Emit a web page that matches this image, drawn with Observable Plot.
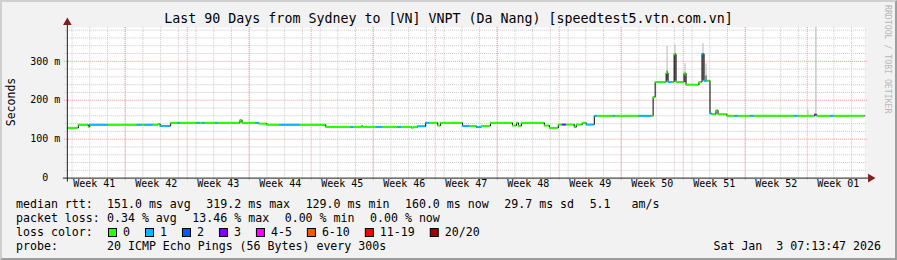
<!DOCTYPE html>
<html>
<head>
<meta charset="utf-8">
<script src="https://cdn.jsdelivr.net/npm/d3@7"></script>
<script src="https://cdn.jsdelivr.net/npm/@observablehq/plot@0.6"></script>
<style>
  html, body { margin: 0; padding: 0; background: #f2f2f2; }
  #wrap { position: relative; width: 897px; height: 260px; box-sizing: border-box;
          background: #f2f2f2; border-top: 2px solid #cfcfcf; border-left: 2px solid #cfcfcf;
          border-right: 2px solid #9e9e9e; border-bottom: 2px solid #9e9e9e; overflow: hidden; }
  #chart, #overlay { position: absolute; left: -2px; top: -2px; }
  #overlay { pointer-events: none; }
  text { font-family: "DejaVu Sans Mono", monospace; }
</style>
</head>
<body>
<div id="wrap">
  <div id="chart"></div>
  <svg id="overlay" width="897" height="260"></svg>
</div>
<script>
// ---------- data ----------
const titleText = "Last 90 Days from Sydney to [VN] VNPT (Da Nang) [speedtest5.vtn.com.vn]";
const windowStart = new Date(Date.UTC(2025, 9, 6, 11, 17));
const windowDays = 90;

// median RTT step segments: day offset from window start, median rtt (ms), lost pings (of 20)
const day = [0, 1.24, 2.37, 2.53, 4.62, 7.89, 8.45, 8.79, 9.69, 10.25, 10.48, 11.66, 12.51, 12.73, 14.65, 14.98,
  15.32, 15.55, 16.79, 17.01, 19.49, 19.72, 21.29, 21.63, 22.53, 24.00, 26.25, 29.18, 32.00, 32.33, 33.24, 33.35,
  34.93, 35.60, 37.29, 37.74, 38.87, 39.09, 39.54, 40.45, 40.90, 41.80, 42.14, 44.61, 45.40, 46.19, 46.75, 47.77,
  50.25, 50.70, 50.92, 51.26, 53.85, 54.42, 55.43, 55.88, 56.33, 57.23, 57.46, 58.13, 58.58, 59.49, 59.82, 61.63,
  61.85, 64.56, 65.91, 66.13, 66.36, 67.60, 67.82, 68.27, 68.50, 68.72, 69.62, 69.85, 71.31, 71.65, 71.88, 72.22,
  72.55, 72.78, 73.23, 73.46, 74.47, 75.37, 75.71, 77.17, 77.51, 82.13, 82.47, 84.38, 84.61, 86.19, 86.53, 89.57];
const rtt = [129, 137, 132, 137, 137, 137, 137, 137, 137, 139, 134, 142, 142, 142, 142, 142,
  142, 142, 142, 142, 149, 142, 142, 140, 137, 137, 137, 131.5, 131.5, 131.5, 134, 131.5,
  131.5, 131.5, 131.5, 131.5, 129.5, 131, 133, 142, 142, 135, 142, 134, 134, 131, 134, 142,
  135, 142, 134, 142, 135, 129, 137.5, 137.5, 137.5, 131, 137.5, 142, 137.5, 160, 160, 160,
  160, 160, 160, 208, 247, 270, 247, 247, 318, 247, 269, 240, 247, 319.2, 250, 250,
  166, 164, 174, 164, 160, 160, 160, 160, 160, 160, 160, 163, 160, 160, 160, 160];
const loss = [0, 0, 0, 1, 0, 1, 0, 1, 0, 0, 1, 0, 1, 0, 1, 0,
  1, 0, 1, 0, 0, 0, 1, 0, 0, 1, 0, 0, 1, 0, 0, 0,
  1, 0, 1, 0, 0, 0, 1, 1, 0, 0, 0, 1, 0, 1, 0, 0,
  0, 0, 0, 0, 0, 0, 0, 3, 0, 0, 0, 0, 1, 1, 0, 1,
  0, 1, 0, 0, 0, 0, 1, 0, 0, 0, 0, 0, 0, 1, 1, 0,
  1, 0, 0, 0, 0, 1, 0, 1, 0, 1, 0, 3, 0, 1, 0, 0];

// smoke (spread of the 20 pings) where it is visible
const smokeDay = [67.71, 68.60, 69.73, 71.76, 72.10, 83.60, 84.50];
const smokeLow = [250, 250, 245, 250, 250, 160, 160];
const smokeMid = [275, 320, 262, 318, 262, 160, 160];
const smokeTop = [338, 342, 294, 346, 294, 174, 387];

// loss colour legend
const lossLevels = [0, 1, 2, 3, 5, 10, 19, 20];
const lossLabels = ["0", "1", "2", "3", "4-5", "6-10", "11-19", "20/20"];
const lossColors = ["#26ff00", "#00b8ff", "#0059ff", "#7e00ff", "#ff00ff", "#ff5500", "#ff0000", "#a10000"];

// axes
const yTicks = [0, 100, 200, 300];
const yTickLabels = ["0\u00a0\u00a0", "100 m", "200 m", "300 m"];
const weekLabels = ["Week 41", "Week 42", "Week 43", "Week 44", "Week 45", "Week 46", "Week 47",
  "Week 48", "Week 49", "Week 50", "Week 51", "Week 52", "Week 01"];
const firstWeekMonday = new Date(Date.UTC(2025, 9, 6));

// statistics legend
const statRtt = ["151.0 ms avg", "319.2 ms max", "129.0 ms min", "160.0 ms now", "29.7 ms sd", "5.1   am/s"];
const statLoss = ["0.34 % avg", "13.46 % max", "0.00 % min", "0.00 % now"];
const probeText = "20 ICMP Echo Pings (56 Bytes) every 300s";
const dateText = "Sat Jan  3 07:13:47 2026";
const watermark = "RRDTOOL / TOBI OETIKER";

// ---------- build ----------
const DAY = 864e5;
const windowEnd = new Date(+windowStart + windowDays * DAY);
const toDate = d => new Date(+windowStart + d * DAY);
const colorOf = l => lossColors[lossLevels.findIndex(v => l <= v)];

const segs = day.map((d, i) => ({
  t: toDate(d), t2: toDate(i + 1 < day.length ? day[i + 1] : windowDays),
  rtt: rtt[i], color: colorOf(loss[i])
}));
const linePts = segs.concat([{t: windowEnd, rtt: rtt[rtt.length - 1]}]);
const smoke = smokeDay.map((d, i) => ({t: toDate(d), lo: smokeLow[i], mid: smokeMid[i], hi: smokeTop[i]}));

const mondays = d3.utcMonday.range(windowStart, windowEnd);
const minorX = d3.range(0, 46).map(i => new Date(Date.UTC(2025, 9, 7) + i * 2 * DAY)).filter(d => d < windowEnd);
const minorY = d3.range(20, 387, 20).filter(v => v % 100 !== 0);
const weeks = weekLabels.map((w, i) => ({label: w, t: new Date(+firstWeekMonday + (i * 7 + 3.5) * DAY)}));

const W = 897, H = 200;
const plot = Plot.plot({
  width: W, height: H,
  marginLeft: 67, marginRight: 31, marginTop: 27, marginBottom: 22,
  x: {type: "utc", domain: [windowStart, windowEnd], axis: null},
  y: {domain: [0, 387], axis: null},
  color: {type: "identity"},
  style: {background: "transparent", fontFamily: "DejaVu Sans Mono", fontSize: "10px", overflow: "visible"},
  marks: [
    Plot.frame({fill: "white", stroke: "none"}),
    // grid
    Plot.ruleY(minorY, {stroke: "#c9c9c9", strokeDasharray: "1,1", insetLeft: -2, insetRight: -2}),
    Plot.ruleX(minorX, {stroke: "#c9c9c9", strokeDasharray: "1,1", insetTop: 0, insetBottom: -2}),
    Plot.ruleY([100, 200, 300], {stroke: "#ef9a9a", strokeDasharray: "1,1", insetLeft: -3, insetRight: -3}),
    Plot.ruleX(mondays, {stroke: "#ef9a9a", strokeDasharray: "1,1", insetBottom: -3}),
    // smoke
    Plot.ruleX(smoke, {x: "t", y1: "lo", y2: "hi", stroke: "#c4c4c4", strokeWidth: 1.2}),
    Plot.ruleX(smoke, {x: "t", y1: "lo", y2: "mid", stroke: "#606060", strokeWidth: 1.2}),
    // median
    Plot.line(linePts, {x: "t", y: "rtt", curve: "step-after", stroke: "#000", strokeWidth: 1}),
    Plot.ruleY(segs, {x1: "t", x2: "t2", y: "rtt", stroke: "color", strokeWidth: 2}),
    // axes
    Plot.ruleY([0], {stroke: "#1f1f1f", insetLeft: -4, insetRight: -4}),
    Plot.ruleX([windowStart], {stroke: "#1f1f1f", insetTop: -3, insetBottom: -4}),
    Plot.dot([windowStart], {x: d => d, frameAnchor: "top", symbol: "triangle", r: 3.2, fill: "#7f1f1f", stroke: "none", dy: -5}),
    Plot.dot([0], {y: d => d, frameAnchor: "right", symbol: "triangle", rotate: 90, r: 3.2, fill: "#7f1f1f", stroke: "none", dx: 6}),
    Plot.text(yTicks, {y: d => d, text: (d, i) => yTickLabels[i], frameAnchor: "left", dx: -7, textAnchor: "end", fill: "#000", fontSize: 10}),
    Plot.text(weeks, {x: "t", text: "label", frameAnchor: "bottom", dy: 9, fill: "#000", fontSize: 10})
  ]
});
document.getElementById("chart").appendChild(plot);

// ---------- text overlay ----------
const ov = d3.select("#overlay");
const txt = (x, y, s, size, anchor = "start", fill = "#000") =>
  ov.append("text").attr("x", x).attr("y", y).attr("font-size", size).attr("text-anchor", anchor)
    .attr("fill", fill).attr("xml:space", "preserve").style("white-space", "pre").text(s);

txt(448.5, 22.5, titleText, "13.3px", "middle");
ov.append("text").attr("transform", "translate(15,102) rotate(-90)").attr("text-anchor", "middle")
  .attr("font-size", "11.5px").attr("fill", "#000").text("Seconds");
ov.append("text").attr("transform", "translate(885,5) rotate(90)").attr("text-anchor", "start")
  .attr("font-size", "8.2px").attr("fill", "#b8b8b8").text(watermark);

const LF = "11.6px", CW = 6.985, GAP = 15.5, COL = 107;
txt(16, 208, "median rtt:", LF);
let x = COL;
statRtt.forEach(s => { txt(x, 208, s, LF); x += s.length * CW + GAP; });
txt(16, 222, "packet loss:", LF);
x = COL;
statLoss.forEach(s => { txt(x, 222, s, LF); x += s.length * CW + GAP; });
txt(16, 236, "loss color:", LF);
x = COL + 1;
lossLabels.forEach((s, i) => {
  ov.append("rect").attr("x", x + 0.5).attr("y", 228.5).attr("width", 8).attr("height", 8)
    .attr("fill", lossColors[i]).attr("stroke", "#000").attr("stroke-width", 1);
  txt(x + 15, 236, s, LF);
  x += 15 + s.length * CW + 15;
});
txt(16, 250, "probe:", LF);
txt(COL, 250, probeText, LF);
txt(881, 250, dateText, LF, "end");
</script>
</body>
</html>
